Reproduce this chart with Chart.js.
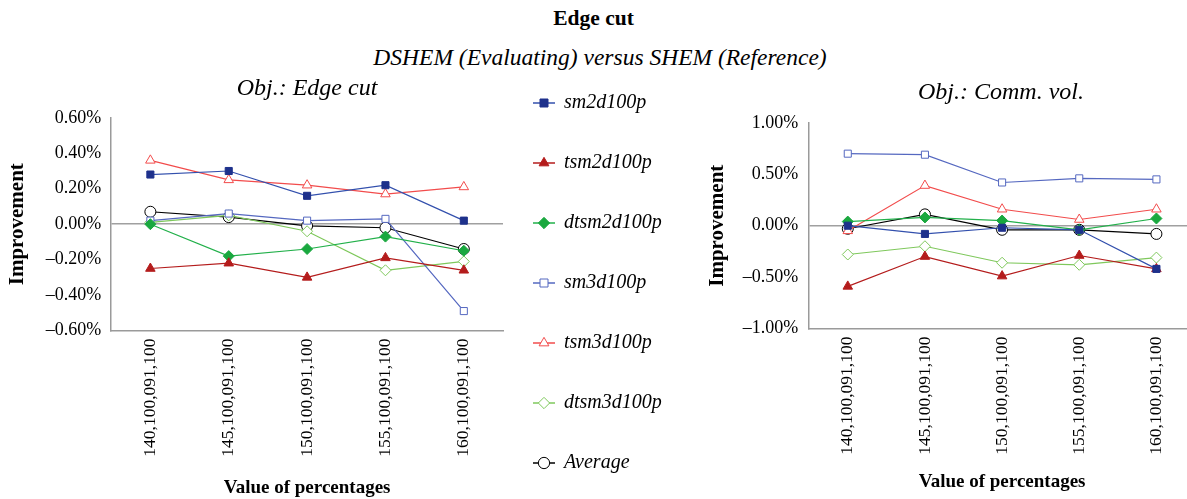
<!DOCTYPE html>
<html>
<head>
<meta charset="utf-8">
<script src="https://cdn.jsdelivr.net/npm/chart.js@4/dist/chart.umd.min.js"></script>
<style>
html,body{margin:0;padding:0;width:1187px;height:499px;overflow:hidden;background:#fff;font-family:"Liberation Serif","Times New Roman",serif;color:#000;}
.abs{position:absolute;}
#t1{left:0;top:6px;width:1187px;text-align:center;font-weight:bold;font-size:21.5px;line-height:24px;}
#t2{left:0;top:44px;width:1200px;text-align:center;font-style:italic;font-size:23.5px;line-height:26px;}
#cLeft{left:0;top:0;}
#cRight{left:700px;top:0;}
#cLegend{left:494px;top:0;}
</style>
</head>
<body>
<div id="t1" class="abs">Edge cut</div>
<div id="t2" class="abs">DSHEM (Evaluating) versus SHEM (Reference)</div>
<canvas id="cLeft" class="abs" width="614" height="499"></canvas>
<canvas id="cRight" class="abs" width="602" height="499"></canvas>
<canvas id="cLegend" class="abs" width="230" height="600"></canvas>
<script>
// ---- Data ----
const categories = ['140,100,091,100','145,100,091,100','150,100,091,100','155,100,091,100','160,100,091,100'];
const seriesNames = ['sm2d100p','tsm2d100p','dtsm2d100p','sm3d100p','tsm3d100p','dtsm3d100p','Average'];

// Obj.: Edge cut (improvement, %)
const edgeSm2d   = [0.28, 0.30, 0.16, 0.22, 0.02];
const edgeTsm2d  = [-0.25, -0.22, -0.30, -0.19, -0.26];
const edgeDtsm2d = [0.00, -0.18, -0.14, -0.07, -0.15];
const edgeSm3d   = [0.02, 0.06, 0.02, 0.03, -0.49];
const edgeTsm3d  = [0.36, 0.25, 0.22, 0.17, 0.21];
const edgeDtsm3d = [0.01, 0.05, -0.04, -0.26, -0.21];
const edgeAvg    = [0.07, 0.04, -0.01, -0.02, -0.14];

// Obj.: Comm. vol. (improvement, %)
const commSm2d   = [0.00, -0.08, -0.02, -0.04, -0.42];
const commTsm2d  = [-0.59, -0.30, -0.49, -0.29, -0.42];
const commDtsm2d = [0.04, 0.08, 0.05, -0.04, 0.07];
const commSm3d   = [0.70, 0.69, 0.42, 0.46, 0.45];
const commTsm3d  = [-0.05, 0.39, 0.16, 0.06, 0.16];
const commDtsm3d = [-0.28, -0.20, -0.36, -0.38, -0.31];
const commAvg    = [-0.03, 0.11, -0.04, -0.04, -0.08];

const edgeTicks = [-0.6, -0.4, -0.2, 0, 0.2, 0.4, 0.6];
const commTicks = [-1.0, -0.5, 0, 0.5, 1.0];

// ---- Styles ----
const FONT = '"Liberation Serif","Times New Roman",serif';
const seriesStyles = [
  {line:'#3350ad', point:'#1e318c', fill:'#1e318c', shape:'rect', r:5},
  {line:'#b41c1c', point:'#b41c1c', fill:'#b41c1c', shape:'triangle', r:5.5},
  {line:'#22b04a', point:'#1aa83f', fill:'#1aa83f', shape:'rectRot', r:5.5},
  {line:'#5568c0', point:'#5568c0', fill:'#ffffff', shape:'rect', r:5},
  {line:'#f24c4c', point:'#f24c4c', fill:'#ffffff', shape:'triangle', r:5.5},
  {line:'#7fc85c', point:'#7fc85c', fill:'#ffffff', shape:'rectRot', r:5.5},
  {line:'#000000', point:'#000000', fill:'#ffffff', shape:'circle', r:5.5}
];

function makeDatasets(arrays) {
  return seriesNames.map((name, i) => {
    const s = seriesStyles[i];
    return {
      label: name,
      data: arrays[i],
      borderColor: s.line,
      backgroundColor: s.fill,
      borderWidth: 1.2,
      pointStyle: s.shape,
      pointRadius: s.r,
      pointBorderColor: s.point,
      pointBackgroundColor: s.fill,
      pointBorderWidth: 1,
      tension: 0,
      fill: false
    };
  });
}

function pctLabel(v) {
  if (Math.abs(v) < 1e-9) v = 0;
  const t = Math.abs(v).toFixed(2) + '%';
  return v < 0 ? '\u2013' + t : t;
}

function chartOptions(cfg) {
  return {
    responsive: false,
    animation: false,
    layout: {padding: cfg.layoutPad},
    plugins: {
      legend: {display: false},
      tooltip: {enabled: false},
      title: {
        display: true, text: cfg.title, color: '#000',
        font: {family: FONT, size: 24, style: 'italic', weight: 'normal'},
        padding: cfg.titlePad
      }
    },
    scales: {
      x: {
        type: 'category',
        offset: true,
        grid: {display: false},
        border: {display: true, color: '#9a9a9a', width: 1.5},
        ticks: {maxRotation: 90, minRotation: 90, color: '#000', padding: 0,
                font: {family: FONT, size: 17.5}},
        title: {display: true, text: 'Value of percentages', color: '#000',
                font: {family: FONT, size: 19, weight: 'bold'},
                padding: cfg.xTitlePad}
      },
      y: {
        min: cfg.min, max: cfg.max,
        afterBuildTicks: (axis) => { axis.ticks = cfg.ticks.map(v => ({value: v})); },
        grid: {
          drawTicks: false,
          drawOnChartArea: true,
          color: (ctx) => (ctx.tick && Math.abs(ctx.tick.value) < 1e-9) ? '#a0a0a0' : 'rgba(0,0,0,0)',
          lineWidth: 1.5
        },
        border: {display: true, color: '#9a9a9a', width: 1.5},
        ticks: {color: '#000', padding: cfg.tickPad, font: {family: FONT, size: 18},
                callback: (v) => pctLabel(v)},
        title: {display: true, text: 'Improvement', color: '#000',
                font: {family: FONT, size: 21, weight: 'bold'},
                padding: cfg.yTitlePad}
      },
      // empty spacer axis on the right (reserves room without shifting the title)
      spacer: {
        type: 'linear', position: 'right', min: 0, max: 1,
        grid: {display: false}, border: {display: false},
        ticks: {display: false},
        afterFit: (scale) => { scale.width = cfg.rightSpace; }
      }
    }
  };
}

new Chart(document.getElementById('cLeft'), {
  type: 'line',
  data: {labels: categories,
         datasets: makeDatasets([edgeSm2d, edgeTsm2d, edgeDtsm2d, edgeSm3d, edgeTsm3d, edgeDtsm3d, edgeAvg])},
  options: chartOptions({
    title: 'Obj.: Edge cut', min: -0.6, max: 0.6, ticks: edgeTicks,
    layoutPad: {left: 0, right: 0, top: 0, bottom: 0},
    rightSpace: 111,
    titlePad: {top: 74, bottom: 15},
    xTitlePad: {top: 19.5, bottom: 0},
    yTitlePad: {top: 5, bottom: 5.5},
    tickPad: 10
  })
});

new Chart(document.getElementById('cRight'), {
  type: 'line',
  data: {labels: categories,
         datasets: makeDatasets([commSm2d, commTsm2d, commDtsm2d, commSm3d, commTsm3d, commDtsm3d, commAvg])},
  options: chartOptions({
    title: 'Obj.: Comm. vol.', min: -1, max: 1, ticks: commTicks,
    layoutPad: {left: 0, right: 0, top: 0, bottom: 6},
    rightSpace: 107,
    titlePad: {top: 78, bottom: 16},
    xTitlePad: {top: 15.5, bottom: 0},
    yTitlePad: {top: 5, bottom: 1.5},
    tickPad: 11
  })
});

// Legend (its own Chart.js instance, series styles only)
const legendLinePlugin = {
  id: 'legendLines',
  beforeDraw(chart) {
    const lg = chart.legend;
    if (!lg || !lg.legendHitBoxes) return;
    const ctx = chart.ctx;
    ctx.save();
    lg.legendHitBoxes.forEach((hb, i) => {
      const s = seriesStyles[i];
      const cx = hb.left + 10, cy = hb.top + 10;
      ctx.strokeStyle = s.line;
      ctx.lineWidth = 1.5;
      ctx.beginPath();
      ctx.moveTo(cx - 11, cy);
      ctx.lineTo(cx + 11, cy);
      ctx.stroke();
    });
    ctx.restore();
  }
};

new Chart(document.getElementById('cLegend'), {
  type: 'line',
  data: {labels: [], datasets: makeDatasets(seriesNames.map(() => []))},
  options: {
    responsive: false,
    animation: false,
    layout: {padding: {top: 53, left: 0, right: 0, bottom: 0}},
    scales: {x: {display: false}, y: {display: false}},
    plugins: {
      tooltip: {enabled: false},
      title: {display: false},
      legend: {
        display: true, position: 'left', align: 'start', maxWidth: 230,
        labels: {
          usePointStyle: true, boxWidth: 20, boxHeight: 8, padding: 40, color: '#000',
          font: {family: FONT, size: 20, style: 'italic'}
        }
      }
    }
  },
  plugins: [legendLinePlugin]
});
</script>
</body>
</html>
